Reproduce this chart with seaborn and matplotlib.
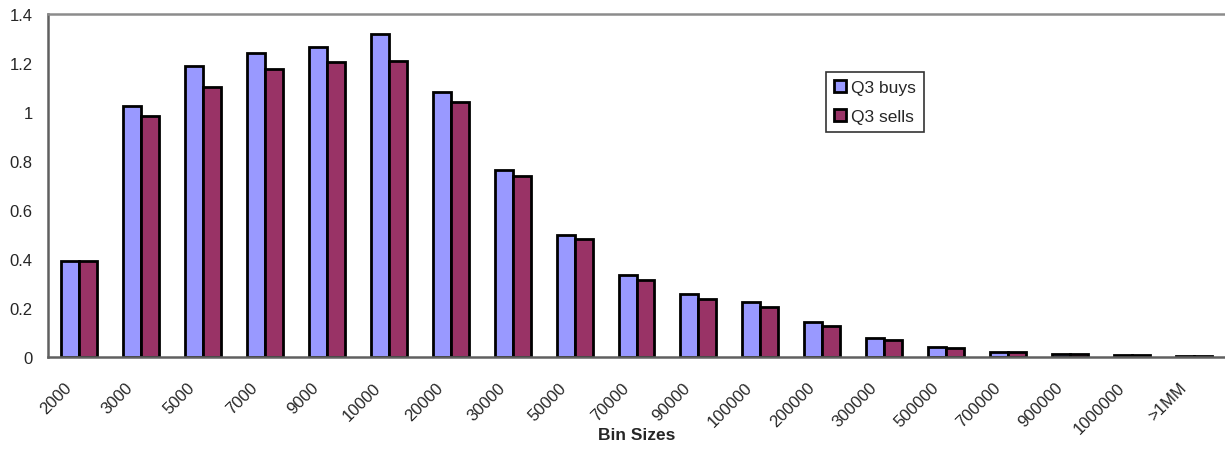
import numpy as np
import pandas as pd
import seaborn as sns
import matplotlib.pyplot as plt

# Bin labels and the two series
bins = ["2000", "3000", "5000", "7000", "9000", "10000", "20000", "30000", "50000",
        "70000", "90000", "100000", "200000", "300000", "500000", "700000",
        "900000", "1000000", ">1MM"]
buys = [0.392, 1.024, 1.186, 1.240, 1.263, 1.316, 1.080, 0.763, 0.500, 0.335,
        0.259, 0.225, 0.143, 0.077, 0.041, 0.022, 0.014, 0.009, 0.004]
sells = [0.392, 0.982, 1.101, 1.175, 1.202, 1.207, 1.039, 0.740, 0.482, 0.315,
         0.239, 0.205, 0.126, 0.070, 0.038, 0.021, 0.013, 0.010, 0.004]

df = pd.DataFrame({
    "bin": bins * 2,
    "value": buys + sells,
    "series": ["Q3 buys"] * len(bins) + ["Q3 sells"] * len(bins),
})

sns.set_style("white")
plt.rcParams["font.family"] = ["Liberation Sans", "DejaVu Sans"]

fig = plt.figure(figsize=(12.25, 4.52), dpi=100)
ax = fig.add_axes([0.0392, 0.2073, 0.9608, 0.7602])

sns.barplot(data=df, x="bin", y="value", hue="series", order=bins,
            palette={"Q3 buys": "#9999FF", "Q3 sells": "#993366"},
            width=0.58, gap=0, edgecolor="black", linewidth=2,
            saturation=1, errorbar=None, ax=ax)

ax.set_xlim(-0.5, 18.38)
ax.set_ylim(0, 1.4)
ax.set_yticks(np.arange(0, 1.41, 0.2))
ax.set_yticklabels(["0", "0.2", "0.4", "0.6", "0.8", "1", "1.2", "1.4"], fontsize=12)

# rotated labels sit a little left of the category centre (Excel style),
# tick marks go on the category boundaries
ax.set_xticks(np.arange(len(bins)) - 0.25)
ax.set_xticklabels(bins, rotation=45, ha="right", va="top", rotation_mode="anchor", fontsize=12)
ax.set_xticks(np.arange(-0.5, len(bins), 1), minor=True)
ax.tick_params(axis="x", which="major", length=0, pad=16)
ax.tick_params(axis="x", which="minor", length=5, width=1.2, color="#606060", direction="out")
ax.tick_params(axis="y", length=5, width=1.2, color="#606060", direction="out", pad=6)

for side in ["left", "bottom"]:
    ax.spines[side].set_color("#606060")
    ax.spines[side].set_linewidth(1.8)
ax.spines["top"].set_color("#8c8c8c")
ax.spines["top"].set_linewidth(1.8)
ax.spines["right"].set_visible(False)

ax.set_xlabel("Bin Sizes", fontsize=12.5, fontweight="bold")
ax.xaxis.set_label_coords(0.5, -0.203)
ax.set_ylabel("")

leg = ax.legend(loc="upper left", bbox_to_anchor=(0.661, 0.829), borderaxespad=0,
                fontsize=12.5, frameon=True, fancybox=False, handlelength=0.7,
                handleheight=0.7, handletextpad=0.3, labelspacing=0.8,
                borderpad=0.45)
leg.get_frame().set_edgecolor("black")
leg.get_frame().set_linewidth(1.2)

fig.savefig("out.png", dpi=100)
